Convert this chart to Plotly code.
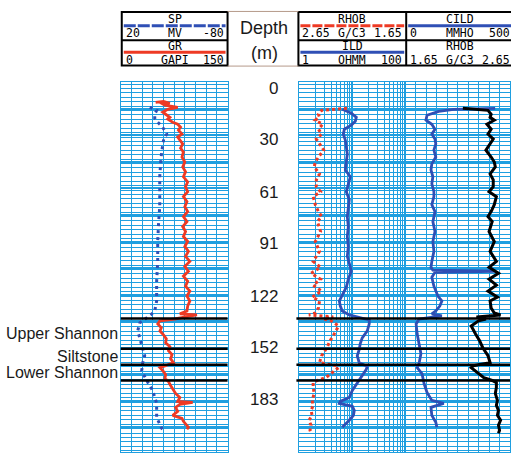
import plotly.graph_objects as go

W, H = 511, 457

# ---------------- log data (depth in metres) ----------------
gr_depth = [8.2, 7.6, 8.8, 8.2, 9.9, 11.1, 12.3, 14.0, 15.2, 17.0, 18.1, 19.9, 21.1, 22.8, 24.6, 26.9,
            28.7, 30.4, 32.7, 35.1, 37.4, 40.4, 43.3, 46.2, 49.1, 52.0, 55.0, 57.9, 60.8, 63.7, 66.7,
            69.6, 72.5, 75.4, 78.4, 81.3, 84.2, 87.1, 90.1, 93.0, 95.9, 98.8, 101.8, 104.7, 107.6,
            110.5, 113.5, 116.4, 119.3, 122.2, 125.1, 128.1, 131.0, 132.7, 133.3, 134.5, 135.7, 136.8,
            138.6, 140.9, 142.7, 145.0, 147.4, 149.7, 152.0, 154.4, 156.7, 159.1, 161.4, 163.2, 164.3,
            166.1, 168.4, 170.8, 172.5, 174.9, 177.2, 179.5, 181.9, 184.2, 184.8, 186.0, 187.7, 190.1,
            192.4, 194.2, 195.9, 197.7, 199.4, 200.6]
gr_api = [49, 60, 69, 55, 62, 80, 66, 59, 63, 69, 66, 73, 80, 84, 81, 86,
          80, 83, 87, 84, 88, 86, 90, 87, 91, 88, 94, 91, 94, 88, 93,
          90, 94, 88, 93, 87, 91, 88, 94, 90, 95, 91, 97, 90, 95,
          88, 94, 91, 97, 93, 97, 94, 93, 83, 107, 91, 76, 55,
          52, 57, 55, 60, 64, 63, 69, 67, 72, 70, 74, 63, 55,
          59, 63, 62, 67, 70, 74, 77, 83, 80, 101, 83, 77, 80,
          73, 86, 88, 91, 95, 93]

sp_depth = [11.1, 12.9, 15.2, 17.5, 19.9, 22.2, 24.6, 26.9, 29.8, 32.7, 37.4, 43.3, 52.0, 60.8, 69.6,
            78.4, 90.1, 101.8, 113.5, 125.1, 131.0, 133.3, 135.1, 138.0, 142.7, 146.8, 152.6, 157.3,
            161.4, 166.1, 171.9, 177.8, 185.4, 193.6, 200.0, 202.3]
sp_mv = [-7.1, -13.6, -11.8, -11.8, -14.6, -18.3, -21.1, -23.0, -20.2, -19.3, -18.3, -17.4, -16.5,
         -16.5, -16.5, -15.5, -14.6, -14.6, -13.6, -13.6, -11.8, -8.0, -4.3, 2.2, 4.1, 2.2, -0.6,
         -2.4, -0.6, 0.4, -4.3, -9.9, -13.6, -13.6, -18.3, -21.1]

rhob_depth = [11.7, 12.3, 12.9, 15.2, 17.0, 18.7, 21.1, 24.0, 26.9, 29.8, 32.7, 36.3, 40.4, 43.3,
              46.2, 50.3, 53.8, 57.9, 60.8, 63.7, 68.4, 72.5, 75.4, 78.4, 84.2, 90.1, 95.9, 101.8,
              105.3, 108.8, 112.3, 115.8, 119.3, 122.8, 125.1, 129.2, 132.2, 133.3, 134.5, 135.7,
              136.8, 139.8, 144.4, 148.5, 152.6, 157.3, 161.4, 163.2, 164.3, 167.3, 170.2, 171.9,
              173.1, 176.0, 179.5, 183.6, 186.5, 189.5, 192.4, 195.3, 198.2, 201.2, 202.9]
rhob_gcc = [2.20, 2.30, 2.44, 2.47, 2.46, 2.50, 2.43, 2.47, 2.44, 2.49, 2.46, 2.42, 2.47, 2.50,
            2.51, 2.46, 2.49, 2.49, 2.45, 2.52, 2.50, 2.47, 2.44, 2.48, 2.45, 2.50, 2.46, 2.52,
            2.45, 2.54, 2.45, 2.52, 2.44, 2.53, 2.46, 2.47, 2.50, 2.56, 2.33, 2.42,
            2.35, 2.28, 2.32, 2.36, 2.39, 2.44, 2.46, 2.30, 2.28, 2.34, 2.40, 2.48,
            2.52, 2.52, 2.51, 2.53, 2.52, 2.54, 2.53, 2.56, 2.54, 2.55, 2.54]

ild_depth = [12.3, 14.6, 17.0, 19.3, 21.6, 24.0, 26.9, 30.4, 34.5, 38.6, 43.3, 48.0, 52.0, 56.1,
             60.8, 65.5, 70.2, 75.4, 81.3, 87.1, 93.0, 98.8, 102.9, 107.6, 112.3, 117.0, 121.6,
             125.1, 128.1, 131.0, 133.3, 135.1, 136.3, 138.6, 142.7, 146.8, 150.3, 153.8, 157.3,
             161.4, 163.7, 165.5, 167.3, 170.2, 173.7, 177.8, 181.9, 184.2, 185.4, 187.1, 189.5,
             192.4, 195.3, 197.7, 199.4]
ild_ohmm = [6.48, 9.58, 11.9, 11.4, 9.58, 7.07, 6.76, 7.38, 7.7, 8.05, 7.7, 7.38, 9.16, 8.4,
            7.7, 8.77, 8.4, 8.05, 8.4, 8.05, 8.4, 8.05, 8.77, 9.58, 8.4, 7.7, 6.46,
            5.69, 5.93, 6.46, 8.77, 14.7, 20.9, 20.9, 19.2, 15.4, 14.1, 13.5, 12.4,
            13.5, 19.2, 18.3, 16.8, 14.7, 12.4, 10.0, 8.77, 5.93, 5.69, 10.0, 10.9,
            10.5, 8.77, 7.38, 6.46]

cild_depth = [11.7, 12.3, 13.5, 15.8, 18.7, 21.1, 24.0, 26.9, 29.8, 32.7, 36.3, 40.4, 44.4, 48.0,
              52.0, 56.1, 60.8, 63.7, 68.4, 72.5, 78.4, 84.2, 90.1, 95.9, 101.8, 105.3, 107.0,
              107.6, 108.2, 111.1, 116.4, 122.2, 125.1, 128.1, 131.0, 132.7, 133.9, 135.7, 138.6,
              144.4, 150.3, 156.1, 162.0, 164.3, 167.8, 173.7, 178.9, 183.6, 185.4, 187.7, 192.4,
              196.5, 199.4]
cild_mmho = [429, 231, 160, 104, 99, 127, 142, 127, 142, 146, 137, 146, 127, 123,
             132, 127, 137, 137, 127, 142, 132, 142, 132, 137, 127, 123, 132,
             429, 142, 127, 137, 156, 175, 165, 146, 127, 175, 66, 52,
             57, 66, 75, 66, 57, 80, 90, 104, 127, 184, 123, 127,
             146, 151]

depth_ticks = [0, 30, 61, 91, 122, 152, 183, 214]
depth_labels = ["0", "30", "61", "91", "122", "152", "183", "214"]

formation_tops = [135.4, 153.2, 162.6, 171.9]
formation_names = ["Upper Shannon", "Siltstone", "Lower Shannon"]

# ---------------- styling ----------------
GRID = "#1f9fe0"
RED = "#ee3a24"
BLUE = "#2f4fb5"
BLACK = "#000000"
DEPTH_RANGE = [214, -3.5]


def px_x(v):
    return v / W


def px_y(v):
    return 1 - v / H


fig = go.Figure()

fig.add_trace(go.Scatter(x=sp_mv, y=sp_depth, xaxis="x2", yaxis="y", mode="lines",
                         line=dict(color=BLUE, width=3, dash="3px,4px")))
fig.add_trace(go.Scatter(x=gr_api, y=gr_depth, xaxis="x", yaxis="y", mode="lines",
                         line=dict(color=RED, width=2.8)))
fig.add_trace(go.Scatter(x=rhob_gcc, y=rhob_depth, xaxis="x4", yaxis="y", mode="lines",
                         line=dict(color=RED, width=3, dash="3px,3px")))
fig.add_trace(go.Scatter(x=ild_ohmm, y=ild_depth, xaxis="x3", yaxis="y", mode="lines",
                         line=dict(color=BLUE, width=2.8)))
fig.add_trace(go.Scatter(x=cild_mmho, y=cild_depth, xaxis="x5", yaxis="y", mode="lines",
                         line=dict(color=BLUE, width=2.8)))
fig.add_trace(go.Scatter(x=rhob_gcc, y=rhob_depth, xaxis="x6", yaxis="y", mode="lines",
                         line=dict(color=BLACK, width=3)))
# carrier for the depth-label axis
fig.add_trace(go.Scatter(x=[None], y=[None], xaxis="x", yaxis="y2", mode="lines",
                         hoverinfo="skip"))

hidden = dict(visible=False)
track_x = dict(showticklabels=False, ticks="", zeroline=False, showgrid=True,
               gridcolor=GRID, gridwidth=1, showline=True, linecolor=GRID,
               linewidth=1, mirror=True, anchor="y")

fig.update_layout(
    width=W, height=H, margin=dict(l=0, r=0, t=0, b=0),
    paper_bgcolor="white", plot_bgcolor="white", showlegend=False,
    xaxis=dict(domain=[px_x(121), px_x(228)], range=[0, 150], tick0=0, dtick=15, **track_x),
    xaxis2=dict(overlaying="x", range=[20, -80], **hidden),
    xaxis3=dict(domain=[px_x(300), px_x(406)], type="log", range=[0, 2], dtick=1,
                minor=dict(dtick="D1", showgrid=True, gridcolor=GRID, gridwidth=1),
                **{**track_x, "gridwidth": 2}),
    xaxis4=dict(overlaying="x3", range=[2.65, 1.65], **hidden),
    xaxis5=dict(domain=[px_x(406), 1.0], range=[0, 500], tick0=0, dtick=50, **track_x),
    xaxis6=dict(overlaying="x5", range=[1.65, 2.65], **hidden),
    yaxis=dict(domain=[px_y(452), px_y(80)], range=DEPTH_RANGE, tick0=-3.5, dtick=15.6,
               showgrid=True, gridcolor=GRID, gridwidth=1.5,
               minor=dict(dtick=2.6, showgrid=True, gridcolor=GRID, gridwidth=1),
               showticklabels=False, ticks="", zeroline=False,
               showline=True, linecolor=GRID, mirror="all"),
    yaxis2=dict(overlaying="y", anchor="free", position=px_x(279), side="left",
                range=DEPTH_RANGE, tickmode="array", tickvals=depth_ticks, ticktext=depth_labels,
                showgrid=False, zeroline=False, showline=False, ticks="",
                tickfont=dict(family="Liberation Sans, Arial", size=17, color="#1a1a1a")),
)

# formation boundaries across both tracks
for d in formation_tops:
    for x0, x1 in [(px_x(121), px_x(228)), (px_x(297), 1.0)]:
        fig.add_shape(type="line", xref="paper", yref="y", x0=x0, x1=x1, y0=d, y1=d,
                      line=dict(color=BLACK, width=2.4))

for name, top, base in zip(formation_names, formation_tops[:-1], formation_tops[1:]):
    fig.add_annotation(text=name, xref="paper", yref="y", x=px_x(120), y=(top + base) / 2,
                       xanchor="right", yanchor="middle", showarrow=False,
                       font=dict(family="Liberation Sans, Arial", size=16, color="#1a1a1a"))

# depth column header
for txt, yy in [("Depth", 25), ("(m)", 50)]:
    fig.add_annotation(text=txt, xref="paper", yref="paper", x=px_x(265), y=px_y(yy),
                       xanchor="center", yanchor="middle", showarrow=False,
                       font=dict(family="Liberation Sans, Arial", size=18, color="#1a1a1a"))

# ---------------- curve headers ----------------
MONO = "DejaVu Sans Mono, Liberation Mono, monospace"


def header_box(x0, x1):
    fig.add_shape(type="rect", xref="paper", yref="paper", x0=px_x(x0), x1=px_x(x1),
                  y0=px_y(63), y1=px_y(9), line=dict(color=BLACK, width=2))
    fig.add_shape(type="line", xref="paper", yref="paper", x0=px_x(x0), x1=px_x(x1),
                  y0=px_y(37.5), y1=px_y(37.5), line=dict(color=BLACK, width=2))


def header_cell(x0, x1, row, title, left, unit, right, color, dash):
    ytitle, yline, yscale = (16, 23, 30.5) if row == 0 else (43.5, 49.5, 57)
    fig.add_annotation(text=title, xref="paper", yref="paper", x=px_x((x0 + x1) / 2),
                       y=px_y(ytitle), xanchor="center", yanchor="middle", showarrow=False,
                       font=dict(family=MONO, size=11.5, color=BLACK))
    if color:
        fig.add_shape(type="line", xref="paper", yref="paper", x0=px_x(x0 + 2), x1=px_x(x1 - 2),
                      y0=px_y(yline), y1=px_y(yline), line=dict(color=color, width=3, dash=dash))
    for txt, xx, anc in [(left, x0 + 2, "left"), (unit, (x0 + x1) / 2, "center"),
                         (right, x1 - 2, "right")]:
        fig.add_annotation(text=txt, xref="paper", yref="paper", x=px_x(xx), y=px_y(yscale),
                           xanchor=anc, yanchor="middle", showarrow=False,
                           font=dict(family=MONO, size=11.5, color=BLACK))


header_box(122, 228)
header_cell(122, 228, 0, "SP", "20", "MV", "-80", BLUE, "12px,2px")
header_cell(122, 228, 1, "GR", "0", "GAPI", "150", RED, "solid")

header_box(299, 520)
fig.add_shape(type="line", xref="paper", yref="paper", x0=px_x(407), x1=px_x(407),
              y0=px_y(63), y1=px_y(9), line=dict(color=BLACK, width=2))
header_cell(299, 407, 0, "RHOB", "2.65", "G/C3", "1.65", RED, "10px,2px")
header_cell(407, 515, 0, "CILD", "0", "MMHO", "500", BLUE, "solid")
header_cell(299, 407, 1, "ILD", "1", "OHMM", "100", BLUE, "solid")
header_cell(407, 515, 1, "RHOB", "1.65", "G/C3", "2.65", None, "solid")

for yy in (8.5, 63.5):
    fig.add_shape(type="line", xref="paper", yref="paper", x0=px_x(228), x1=px_x(299),
                  y0=px_y(yy), y1=px_y(yy), line=dict(color="#b59a8a", width=1))

fig.write_html("out.html")
